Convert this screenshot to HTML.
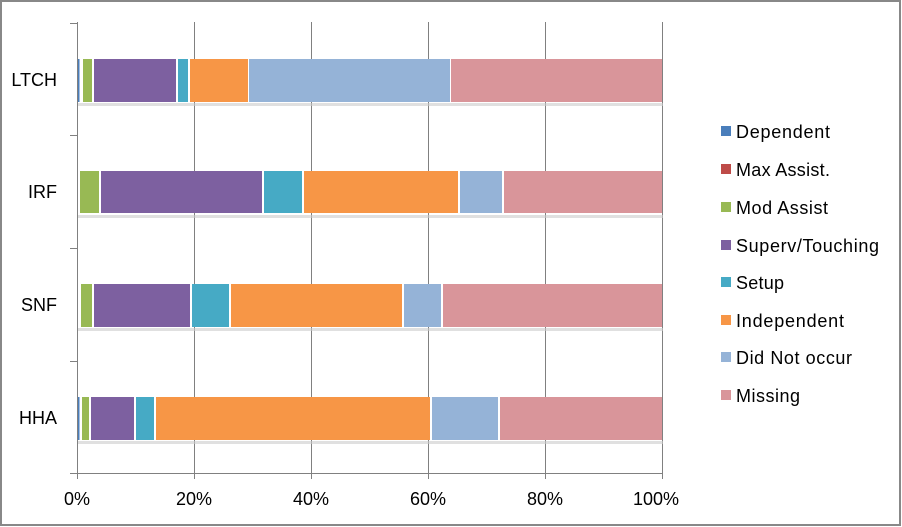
<!DOCTYPE html>
<html><head><style>
html,body{margin:0;padding:0;background:#fff;}
svg{display:block;}
text{font-family:"Liberation Sans",Calibri,sans-serif;fill:#000;}
</style></head><body>
<svg width="902" height="527" xmlns="http://www.w3.org/2000/svg">
<rect x="1" y="1" width="899" height="524" fill="#fff" stroke="#888" stroke-width="2"/>
<g stroke="#808080" stroke-width="1">
<line x1="194.5" y1="22" x2="194.5" y2="479"/>
<line x1="311.5" y1="22" x2="311.5" y2="479"/>
<line x1="428.5" y1="22" x2="428.5" y2="479"/>
<line x1="545.5" y1="22" x2="545.5" y2="479"/>
<line x1="662.5" y1="22" x2="662.5" y2="479"/>
<line x1="77.5" y1="22" x2="77.5" y2="479"/>
<line x1="70" y1="473.5" x2="662" y2="473.5"/>
<line x1="70" y1="23.5" x2="77" y2="23.5"/>
<line x1="70" y1="135.5" x2="77" y2="135.5"/>
<line x1="70" y1="248.5" x2="77" y2="248.5"/>
<line x1="70" y1="361.5" x2="77" y2="361.5"/>
</g>
<g fill="#ccc" opacity="0.6">
<rect x="78" y="103" width="585" height="3"/>
<rect x="78" y="215" width="585" height="3"/>
<rect x="78" y="328" width="585" height="3"/>
<rect x="78" y="441" width="585" height="3"/>
</g>
<g transform="translate(0,59)">
<rect x="78" width="1.5" height="43" fill="#4a7ebb"/>
<rect x="83" width="9" height="43" fill="#98b954"/>
<rect x="94" width="82" height="43" fill="#7d60a0"/>
<rect x="178" width="10" height="43" fill="#46aac5"/>
<rect x="190" width="58" height="43" fill="#f79646"/>
<rect x="249" width="201" height="43" fill="#95b3d7"/>
<rect x="451" width="211" height="43" fill="#d9959a"/>
</g>
<g transform="translate(0,171)">
<rect x="80" width="19" height="42" fill="#98b954"/>
<rect x="101" width="161" height="42" fill="#7d60a0"/>
<rect x="264" width="38" height="42" fill="#46aac5"/>
<rect x="304" width="154" height="42" fill="#f79646"/>
<rect x="460" width="42" height="42" fill="#95b3d7"/>
<rect x="504" width="158" height="42" fill="#d9959a"/>
</g>
<g transform="translate(0,284)">
<rect x="81" width="11" height="43" fill="#98b954"/>
<rect x="94" width="96" height="43" fill="#7d60a0"/>
<rect x="192" width="37" height="43" fill="#46aac5"/>
<rect x="231" width="171" height="43" fill="#f79646"/>
<rect x="404" width="37" height="43" fill="#95b3d7"/>
<rect x="443" width="219" height="43" fill="#d9959a"/>
</g>
<g transform="translate(0,397)">
<rect x="78" width="1.5" height="43" fill="#4a7ebb"/>
<rect x="82" width="7" height="43" fill="#98b954"/>
<rect x="91" width="43" height="43" fill="#7d60a0"/>
<rect x="136" width="18" height="43" fill="#46aac5"/>
<rect x="156" width="274" height="43" fill="#f79646"/>
<rect x="432" width="66" height="43" fill="#95b3d7"/>
<rect x="500" width="162" height="43" fill="#d9959a"/>
</g>
<g font-size="18" text-anchor="end">
<text x="57" y="86">LTCH</text>
<text x="57" y="198">IRF</text>
<text x="57" y="311">SNF</text>
<text x="57" y="424">HHA</text>
</g>
<g font-size="18" text-anchor="middle">
<text x="77" y="505">0%</text>
<text x="194" y="505">20%</text>
<text x="311" y="505">40%</text>
<text x="428" y="505">60%</text>
<text x="545" y="505">80%</text>
<text x="656" y="505">100%</text>
</g>
<g font-size="18">
<rect x="721" y="126" width="10" height="10" fill="#4a7ebb"/><text x="736" y="138" textLength="94">Dependent</text>
<rect x="721" y="164" width="10" height="10" fill="#be4b48"/><text x="736" y="176" textLength="94">Max Assist.</text>
<rect x="721" y="202" width="10" height="10" fill="#98b954"/><text x="736" y="214" textLength="92">Mod Assist</text>
<rect x="721" y="240" width="10" height="10" fill="#7d60a0"/><text x="736" y="252" textLength="143">Superv/Touching</text>
<rect x="721" y="277" width="10" height="10" fill="#46aac5"/><text x="736" y="289" textLength="48">Setup</text>
<rect x="721" y="315" width="10" height="10" fill="#f79646"/><text x="736" y="327" textLength="108">Independent</text>
<rect x="721" y="352" width="10" height="10" fill="#95b3d7"/><text x="736" y="364" textLength="116">Did Not occur</text>
<rect x="721" y="390" width="10" height="10" fill="#d9959a"/><text x="736" y="402" textLength="64">Missing</text>
</g>
</svg>
</body></html>
